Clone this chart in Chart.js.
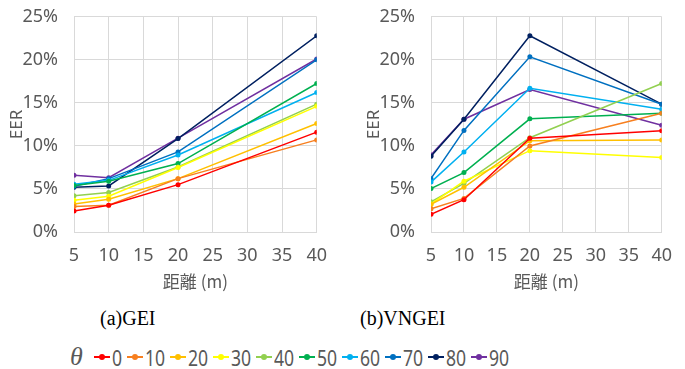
<!DOCTYPE html>
<html>
<head>
<meta charset="utf-8">
<script src="https://cdn.jsdelivr.net/npm/chart.js@4.4.0/dist/chart.umd.min.js"></script>
<style>
  body { margin: 0; background: #fff; width: 685px; height: 369px; position: relative; overflow: hidden; }
  .box { position: absolute; top: -10px; }
  .cap { position: absolute; top: 307px; font-family: "Liberation Serif", serif; font-size: 20px; color: #000; }
  #legend { position: absolute; top: 342px; left: 70px; display: flex; align-items: center; font-family: "Noto Sans", sans-serif; color: #595959; }
  #legend .theta { font-family: "Liberation Serif", serif; font-style: italic; font-size: 26px; width: 24px; }
  #legend .item { display: flex; align-items: center; font-size: 22px; overflow: visible; white-space: nowrap; }
  #legend .item span.t { display: inline-block; transform: scaleX(0.8); transform-origin: left center; }
  #legend .mk { position: relative; width: 16px; height: 10px; margin-right: 2px; flex: none; }
  #legend .mk i { position: absolute; left: 0; top: 4px; width: 16px; height: 2px; }
  #legend .mk b { position: absolute; left: 5px; top: 2px; width: 6px; height: 6px; border-radius: 50%; }
</style>
</head>
<body>
<div class="box" style="left:0"><canvas id="gei" width="340" height="302"></canvas></div>
<div class="box" style="left:340px"><canvas id="vngei" width="345" height="302"></canvas></div>
<div class="cap" style="left:100px">(a)GEI</div>
<div class="cap" style="left:360px">(b)VNGEI</div>
<div id="legend"></div>
<script>
var distances = [5, 10, 20, 40];
var angles = ['0', '10', '20', '30', '40', '50', '60', '70', '80', '90'];
var colors = ['#FF0000', '#F77F1F', '#FFC000', '#FFFF00', '#92D050', '#00B050', '#00B0F0', '#0070C0', '#002060', '#7030A0'];

// EER (%) for each angle, at distances 5, 10, 20, 40 m
var geiEER = [
  [2.45, 3.1, 5.5, 11.6],
  [2.95, 3.1, 6.2, 10.7],
  [3.25, 3.8, 6.2, 12.6],
  [3.7, 4.15, 7.5, 14.6],
  [4.2, 4.6, 7.55, 14.85],
  [5.4, 5.9, 7.95, 17.25],
  [5.55, 6.0, 8.95, 16.2],
  [5.3, 6.2, 9.3, 20.0],
  [5.2, 5.35, 10.85, 22.8],
  [6.6, 6.3, 10.9, 20.1]
];
var vngeiEER = [
  [2.05, 3.75, 10.9, 11.75],
  [2.7, 3.9, 10.0, 13.8],
  [3.2, 5.2, 10.6, 10.7],
  [3.25, 5.9, 9.45, 8.65],
  [3.5, 5.65, 10.95, 17.25],
  [5.05, 6.9, 13.15, 13.8],
  [5.8, 9.3, 16.7, 14.25],
  [6.2, 11.8, 20.35, 14.85],
  [8.8, 13.1, 22.8, 14.85],
  [8.95, 13.1, 16.55, 12.4]
];

Chart.defaults.font.family = "'Noto Sans', sans-serif";
Chart.defaults.color = '#595959';

function makeSets(rows) {
  return rows.map(function(row, i) {
    return {
      label: angles[i],
      data: row.map(function(v, j) { return { x: distances[j], y: v }; }),
      borderColor: colors[i],
      backgroundColor: colors[i],
      borderWidth: 1.5,
      pointRadius: 2.5,
      pointBorderWidth: 0,
      fill: false,
      tension: 0
    };
  });
}

function makeChart(id, rows, padLeft, padRight) {
  return new Chart(document.getElementById(id).getContext('2d'), {
    type: 'line',
    data: { datasets: makeSets(rows) },
    options: {
      responsive: false,
      animation: false,
      layout: { padding: { left: padLeft, right: padRight, top: 4, bottom: 0 } },
      plugins: { legend: { display: false }, tooltip: { enabled: false } },
      scales: {
        x: {
          type: 'linear',
          min: 5,
          max: 40,
          afterFit: function(s) { s.height = 60; },
          ticks: { stepSize: 5, padding: 13, font: { size: 18 } },
          grid: { color: '#d9d9d9', drawTicks: false },
          border: { color: '#d9d9d9' },
          title: { display: true, text: '距離 (m)', font: { size: 17, family: "'Noto Sans CJK JP', 'Noto Sans', sans-serif" }, padding: { top: 0, bottom: 0 } }
        },
        y: {
          min: 0,
          max: 25,
          afterFit: function(s) { s.width = 74; },
          ticks: { stepSize: 5, padding: 16, font: { size: 18 }, callback: function(v) { return v + '%'; } },
          grid: { color: '#d9d9d9', drawTicks: false },
          border: { color: '#d9d9d9' },
          title: { display: true, text: 'EER', font: { size: 17 }, padding: { top: 7, bottom: 0 } }
        }
      }
    }
  });
}

makeChart('gei', geiEER, 0, 22);
makeChart('vngei', vngeiEER, 17, 10);

var legend = document.getElementById('legend');
var th = document.createElement('span');
th.className = 'theta';
th.textContent = 'θ';
legend.appendChild(th);
angles.forEach(function(a, i) {
  var it = document.createElement('span');
  it.className = 'item';
  it.style.width = (a.length > 1 ? 43 : 33) + 'px';
  it.innerHTML = '<span class="mk"><i style="background:' + colors[i] + '"></i><b style="background:' + colors[i] + '"></b></span><span class="t">' + a + '</span>';
  legend.appendChild(it);
});
</script>
</body>
</html>
